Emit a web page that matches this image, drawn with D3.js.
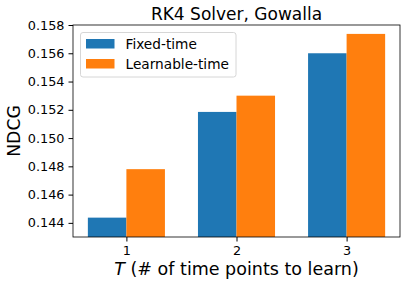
<!doctype html>
<html lang="en">
<head>
  <meta charset="utf-8">
  <title>RK4 Solver, Gowalla</title>
  <script src="https://cdn.jsdelivr.net/npm/d3@7"></script>
  <style>
    body { margin: 0; background: #fff; }
    svg text { font-family: "DejaVu Sans", sans-serif; fill: #000; }
  </style>
</head>
<body>
  <svg width="407" height="286"></svg>
  <script>
    // data
    var categories = ["1", "2", "3"];
    var seriesNames = ["Fixed-time", "Learnable-time"];
    var fixedTime = [0.14437, 0.15185, 0.15600];
    var learnableTime = [0.14780, 0.15300, 0.15737];
    var yTicks = [0.144, 0.146, 0.148, 0.150, 0.152, 0.154, 0.156, 0.158];
    var colors = ["#1f77b4", "#ff7f0e"];

    var svg = d3.select("svg"),
      axL = 73, axR = 400, axT = 25, axB = 237;

    var x = d3.scaleLinear().domain([0.515, 3.485]).range([axL, axR]);
    var y = d3.scaleLinear().domain([0.143, 0.158]).range([axB, axT]);
    var barW = 0.35;

    var series = [fixedTime, learnableTime];
    series.forEach(function (vals, s) {
      svg.append("g").selectAll("rect")
        .data(vals)
        .enter().append("rect")
        .attr("x", function (d, i) { return x(i + 1 + (s === 0 ? -barW : 0)); })
        .attr("width", x(barW) - x(0))
        .attr("y", function (d) { return y(d); })
        .attr("height", function (d) { return axB - y(d); })
        .attr("fill", colors[s]);
    });

    // axes
    var yAxis = d3.axisLeft(y).tickValues(yTicks).tickFormat(d3.format(".3f")).tickSize(4.5).tickPadding(4);
    var gy = svg.append("g").attr("transform", "translate(" + axL + ",0)").call(yAxis);
    gy.select(".domain").remove();
    gy.selectAll("text").style("font-size", "12.8px").style("font-family", "DejaVu Sans");

    var xAxis = d3.axisBottom(x).tickValues([1, 2, 3]).tickFormat(function (d, i) { return categories[i]; }).tickSize(4.5).tickPadding(4);
    var gx = svg.append("g").attr("transform", "translate(0," + axB + ")").call(xAxis);
    gx.select(".domain").remove();
    gx.selectAll("text").style("font-size", "12.8px").style("font-family", "DejaVu Sans");

    svg.append("rect")
      .attr("x", axL).attr("y", axT)
      .attr("width", axR - axL).attr("height", axB - axT)
      .attr("fill", "none").attr("stroke", "#000").attr("stroke-width", 0.8);

    // title and labels
    svg.append("text").attr("x", (axL + axR) / 2).attr("y", 19.5)
      .attr("text-anchor", "middle").style("font-size", "17px").text("RK4 Solver, Gowalla");

    svg.append("text").attr("transform", "translate(19.5," + (axT + axB) / 2 + ") rotate(-90)")
      .attr("text-anchor", "middle").style("font-size", "17.3px").text("NDCG");

    var xl = svg.append("text").attr("x", (axL + axR) / 2).attr("y", 275)
      .attr("text-anchor", "middle").style("font-size", "17.5px");
    xl.append("tspan").style("font-style", "italic").text("T");
    xl.append("tspan").text(" (# of time points to learn)");

    // legend
    var lg = svg.append("g");
    lg.append("rect").attr("x", 80.5).attr("y", 32.5).attr("width", 155.5).attr("height", 44.5)
      .attr("rx", 2.5).attr("fill", "#fff").attr("fill-opacity", 0.8).attr("stroke", "#ccc").attr("stroke-width", 0.8);
    seriesNames.forEach(function (name, i) {
      lg.append("rect").attr("x", 86).attr("y", 39 + i * 20).attr("width", 28.5).attr("height", 9.5).attr("fill", colors[i]);
      lg.append("text").attr("x", 125.5).attr("y", 48.5 + i * 20).style("font-size", "13.7px").text(name);
    });
  </script>
</body>
</html>
